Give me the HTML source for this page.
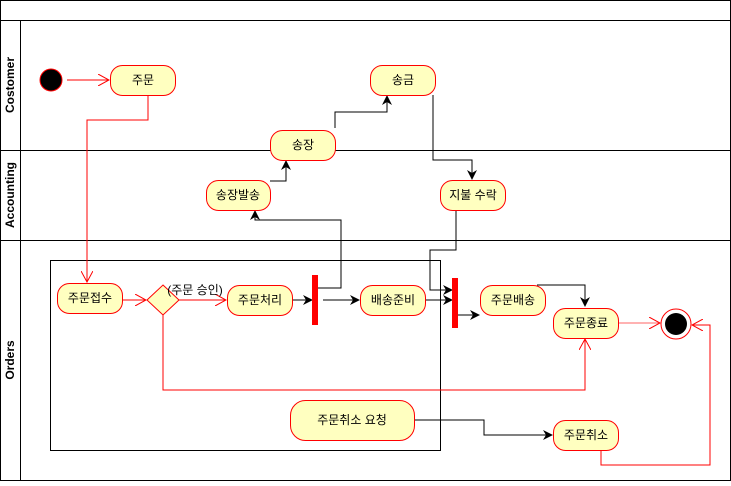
<!DOCTYPE html>
<html><head><meta charset="utf-8"><style>
html,body{margin:0;padding:0;background:#fff;}
text{font-family:"Liberation Sans","Noto Sans CJK KR",sans-serif;font-size:12px;}
</style></head><body>
<svg width="731" height="481" viewBox="0 0 731 481" xmlns="http://www.w3.org/2000/svg">
<defs>
<marker id="fa" markerWidth="10" markerHeight="10" refX="9" refY="5" orient="auto" markerUnits="userSpaceOnUse"><path d="M0,0 L10,5 L0,10 L3,5 Z" fill="#000"/></marker>
<marker id="oa" markerWidth="12" markerHeight="12" refX="11" refY="6" orient="auto" markerUnits="userSpaceOnUse"><path d="M0,0 L11,6 L0,12" fill="none" stroke="#f00" stroke-width="1"/></marker>
</defs>
<rect x="0.5" y="0.5" width="730" height="480" fill="#fff" stroke="#000"/>
<line x1="0" y1="20.5" x2="731" y2="20.5" stroke="#000"/>
<line x1="0" y1="150.5" x2="731" y2="150.5" stroke="#000"/>
<line x1="0" y1="240.5" x2="731" y2="240.5" stroke="#000"/>
<line x1="20.5" y1="20" x2="20.5" y2="481" stroke="#000"/>
<g font-weight="bold">
<text transform="translate(14,85) rotate(-90)" text-anchor="middle" font-weight="bold">Costomer</text>
<text transform="translate(14,195) rotate(-90)" text-anchor="middle" font-weight="bold">Accounting</text>
<text transform="translate(14,360) rotate(-90)" text-anchor="middle" font-weight="bold">Orders</text>
</g>
<rect x="50.5" y="260.5" width="390" height="190" fill="none" stroke="#000"/>

<!-- connectors -->
<g fill="none" stroke="#f00">
<path d="M67,80 H109" marker-end="url(#oa)"/>
<path d="M148,95 V120 H87 V282" marker-end="url(#oa)"/>
<path d="M122,300 H146" marker-end="url(#oa)"/>
<path d="M179,300 H226" marker-end="url(#oa)"/>
<path d="M163,315 V390 H585 V339" marker-end="url(#oa)"/>
<path d="M618,323 H660" marker-end="url(#oa)" stroke="#f66"/>
<path d="M601,450 V465 H710 V325 H692" marker-end="url(#oa)"/>
</g>
<g fill="none" stroke="#000">
<path d="M292,300 H312" marker-end="url(#fa)"/>
<path d="M323,300 H359" marker-end="url(#fa)"/>
<path d="M318,288 H341 V220 H255 V211" marker-end="url(#fa)"/>
<path d="M270,181 H286 V161" marker-end="url(#fa)"/>
<path d="M335,128 V112 H387 V96" marker-end="url(#fa)"/>
<path d="M433,95 V160 H472 V179" marker-end="url(#fa)"/>
<path d="M456,210 V250 H430 V290 H452" marker-end="url(#fa)"/>
<path d="M425,300 H452" marker-end="url(#fa)"/>
<path d="M458,315 H479" marker-end="url(#fa)"/>
<path d="M537,285 H585 V306" marker-end="url(#fa)"/>
<path d="M415,420 H484 V435 H552" marker-end="url(#fa)"/>
</g>

<!-- nodes -->
<circle cx="51" cy="80" r="11" fill="#000" stroke="#f00"/>
<g fill="#ffffc0" stroke="#f00">
<rect x="110.5" y="65.5" width="65" height="30" rx="12"/>
<rect x="270.5" y="130.5" width="65" height="30" rx="12"/>
<rect x="370.5" y="65.5" width="65" height="30" rx="12"/>
<rect x="206.5" y="180.5" width="64" height="30" rx="12"/>
<rect x="440.5" y="180.5" width="65" height="30" rx="12"/>
<rect x="57.5" y="283.5" width="65" height="30" rx="12"/>
<path d="M163,285 L179,300 L163,315 L147,300 Z"/>
<rect x="227.5" y="285.5" width="65" height="30" rx="12"/>
<rect x="360.5" y="285.5" width="65" height="30" rx="12"/>
<rect x="480.5" y="285.5" width="65" height="30" rx="12"/>
<rect x="553.5" y="308.5" width="65" height="30" rx="12"/>
<rect x="290.5" y="400.5" width="124" height="40" rx="15"/>
<rect x="553.5" y="420.5" width="65" height="30" rx="12"/>
</g>
<rect x="312" y="275" width="6" height="50" fill="#f00"/>
<rect x="452" y="278" width="6" height="50" fill="#f00"/>
<circle cx="676" cy="324" r="15" fill="#fff" stroke="#f00"/>
<circle cx="676" cy="324" r="11" fill="#000"/>

<g text-anchor="middle">
<text x="143" y="84">주문</text>
<text x="303" y="149">송장</text>
<text x="403" y="84">송금</text>
<text x="238" y="199">송장발송</text>
<text x="473" y="199">지불 수락</text>
<text x="90" y="302">주문접수</text>
<text x="195" y="294">(주문 승인)</text>
<text x="260" y="304">주문처리</text>
<text x="393" y="304">배송준비</text>
<text x="513" y="304">주문배송</text>
<text x="586" y="327">주문종료</text>
<text x="352" y="424">주문취소 요청</text>
<text x="586" y="439">주문취소</text>
</g>
</svg>
</body></html>
